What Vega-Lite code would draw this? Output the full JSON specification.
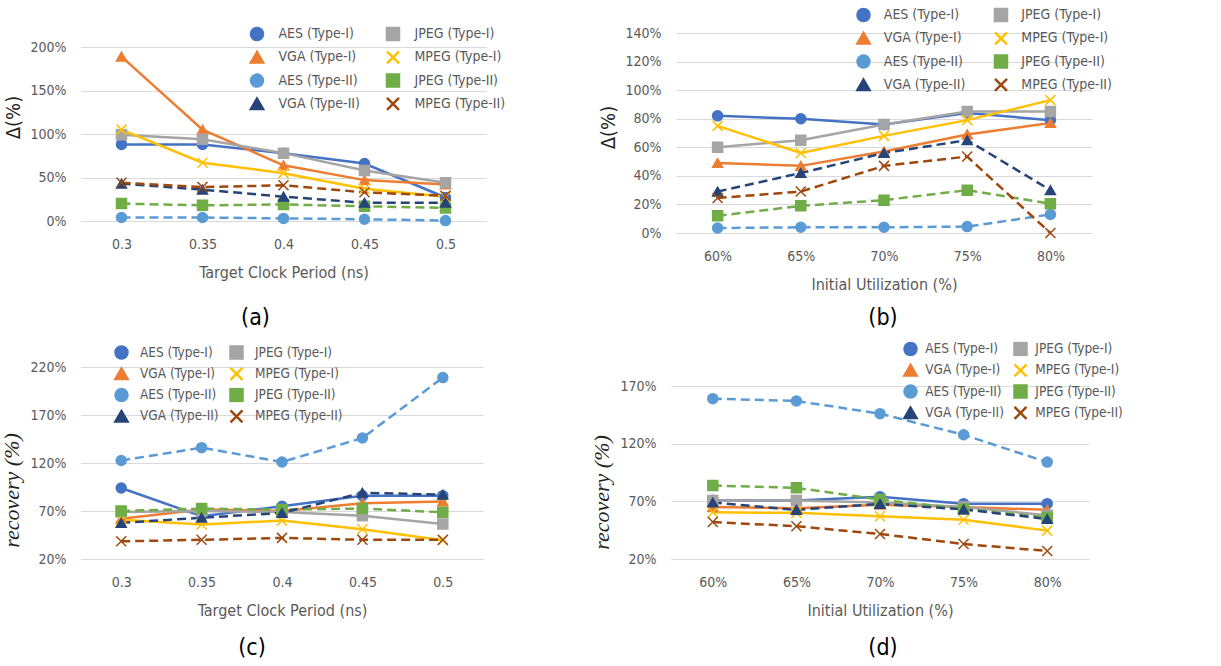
{
"$schema": "https://vega.github.io/schema/vega-lite/v6.json",
"background": "white",
"padding": {"left": 0, "top": 7, "right": 0, "bottom": 0},
"datasets": {
"a": [
{"x":"0.3","series":"AES (Type-I)","v":0.88},{"x":"0.35","series":"AES (Type-I)","v":0.88},{"x":"0.4","series":"AES (Type-I)","v":0.78},{"x":"0.45","series":"AES (Type-I)","v":0.66},{"x":"0.5","series":"AES (Type-I)","v":0.27},
{"x":"0.3","series":"VGA (Type-I)","v":1.89},{"x":"0.35","series":"VGA (Type-I)","v":1.05},{"x":"0.4","series":"VGA (Type-I)","v":0.64},{"x":"0.45","series":"VGA (Type-I)","v":0.47},{"x":"0.5","series":"VGA (Type-I)","v":0.42},
{"x":"0.3","series":"JPEG (Type-I)","v":0.99},{"x":"0.35","series":"JPEG (Type-I)","v":0.94},{"x":"0.4","series":"JPEG (Type-I)","v":0.78},{"x":"0.45","series":"JPEG (Type-I)","v":0.58},{"x":"0.5","series":"JPEG (Type-I)","v":0.44},
{"x":"0.3","series":"MPEG (Type-I)","v":1.05},{"x":"0.35","series":"MPEG (Type-I)","v":0.67},{"x":"0.4","series":"MPEG (Type-I)","v":0.55},{"x":"0.45","series":"MPEG (Type-I)","v":0.37},{"x":"0.5","series":"MPEG (Type-I)","v":0.28},
{"x":"0.3","series":"AES (Type-II)","v":0.04},{"x":"0.35","series":"AES (Type-II)","v":0.04},{"x":"0.4","series":"AES (Type-II)","v":0.03},{"x":"0.45","series":"AES (Type-II)","v":0.02},{"x":"0.5","series":"AES (Type-II)","v":0.005},
{"x":"0.3","series":"JPEG (Type-II)","v":0.20},{"x":"0.35","series":"JPEG (Type-II)","v":0.18},{"x":"0.4","series":"JPEG (Type-II)","v":0.19},{"x":"0.45","series":"JPEG (Type-II)","v":0.17},{"x":"0.5","series":"JPEG (Type-II)","v":0.15},
{"x":"0.3","series":"VGA (Type-II)","v":0.43},{"x":"0.35","series":"VGA (Type-II)","v":0.36},{"x":"0.4","series":"VGA (Type-II)","v":0.28},{"x":"0.45","series":"VGA (Type-II)","v":0.21},{"x":"0.5","series":"VGA (Type-II)","v":0.21},
{"x":"0.3","series":"MPEG (Type-II)","v":0.44},{"x":"0.35","series":"MPEG (Type-II)","v":0.39},{"x":"0.4","series":"MPEG (Type-II)","v":0.41},{"x":"0.45","series":"MPEG (Type-II)","v":0.33},{"x":"0.5","series":"MPEG (Type-II)","v":0.29}
],
"b": [
{"x":"60%","series":"AES (Type-I)","v":0.82},{"x":"65%","series":"AES (Type-I)","v":0.80},{"x":"70%","series":"AES (Type-I)","v":0.76},{"x":"75%","series":"AES (Type-I)","v":0.84},{"x":"80%","series":"AES (Type-I)","v":0.79},
{"x":"60%","series":"VGA (Type-I)","v":0.49},{"x":"65%","series":"VGA (Type-I)","v":0.47},{"x":"70%","series":"VGA (Type-I)","v":0.57},{"x":"75%","series":"VGA (Type-I)","v":0.69},{"x":"80%","series":"VGA (Type-I)","v":0.77},
{"x":"60%","series":"JPEG (Type-I)","v":0.60},{"x":"65%","series":"JPEG (Type-I)","v":0.65},{"x":"70%","series":"JPEG (Type-I)","v":0.76},{"x":"75%","series":"JPEG (Type-I)","v":0.85},{"x":"80%","series":"JPEG (Type-I)","v":0.85},
{"x":"60%","series":"MPEG (Type-I)","v":0.75},{"x":"65%","series":"MPEG (Type-I)","v":0.56},{"x":"70%","series":"MPEG (Type-I)","v":0.68},{"x":"75%","series":"MPEG (Type-I)","v":0.79},{"x":"80%","series":"MPEG (Type-I)","v":0.93},
{"x":"60%","series":"AES (Type-II)","v":0.035},{"x":"65%","series":"AES (Type-II)","v":0.04},{"x":"70%","series":"AES (Type-II)","v":0.04},{"x":"75%","series":"AES (Type-II)","v":0.045},{"x":"80%","series":"AES (Type-II)","v":0.13},
{"x":"60%","series":"JPEG (Type-II)","v":0.12},{"x":"65%","series":"JPEG (Type-II)","v":0.19},{"x":"70%","series":"JPEG (Type-II)","v":0.23},{"x":"75%","series":"JPEG (Type-II)","v":0.30},{"x":"80%","series":"JPEG (Type-II)","v":0.205},
{"x":"60%","series":"VGA (Type-II)","v":0.29},{"x":"65%","series":"VGA (Type-II)","v":0.42},{"x":"70%","series":"VGA (Type-II)","v":0.56},{"x":"75%","series":"VGA (Type-II)","v":0.65},{"x":"80%","series":"VGA (Type-II)","v":0.30},
{"x":"60%","series":"MPEG (Type-II)","v":0.245},{"x":"65%","series":"MPEG (Type-II)","v":0.29},{"x":"70%","series":"MPEG (Type-II)","v":0.47},{"x":"75%","series":"MPEG (Type-II)","v":0.535},{"x":"80%","series":"MPEG (Type-II)","v":0.0}
],
"c": [
{"x":"0.3","series":"AES (Type-I)","v":0.94},{"x":"0.35","series":"AES (Type-I)","v":0.645},{"x":"0.4","series":"AES (Type-I)","v":0.75},{"x":"0.45","series":"AES (Type-I)","v":0.86},{"x":"0.5","series":"AES (Type-I)","v":0.86},
{"x":"0.3","series":"VGA (Type-I)","v":0.62},{"x":"0.35","series":"VGA (Type-I)","v":0.715},{"x":"0.4","series":"VGA (Type-I)","v":0.70},{"x":"0.45","series":"VGA (Type-I)","v":0.78},{"x":"0.5","series":"VGA (Type-I)","v":0.80},
{"x":"0.3","series":"JPEG (Type-I)","v":0.69},{"x":"0.35","series":"JPEG (Type-I)","v":0.70},{"x":"0.4","series":"JPEG (Type-I)","v":0.69},{"x":"0.45","series":"JPEG (Type-I)","v":0.65},{"x":"0.5","series":"JPEG (Type-I)","v":0.565},
{"x":"0.3","series":"MPEG (Type-I)","v":0.61},{"x":"0.35","series":"MPEG (Type-I)","v":0.56},{"x":"0.4","series":"MPEG (Type-I)","v":0.60},{"x":"0.45","series":"MPEG (Type-I)","v":0.51},{"x":"0.5","series":"MPEG (Type-I)","v":0.395},
{"x":"0.3","series":"AES (Type-II)","v":1.226},{"x":"0.35","series":"AES (Type-II)","v":1.36},{"x":"0.4","series":"AES (Type-II)","v":1.21},{"x":"0.45","series":"AES (Type-II)","v":1.46},{"x":"0.5","series":"AES (Type-II)","v":2.09},
{"x":"0.3","series":"JPEG (Type-II)","v":0.70},{"x":"0.35","series":"JPEG (Type-II)","v":0.725},{"x":"0.4","series":"JPEG (Type-II)","v":0.715},{"x":"0.45","series":"JPEG (Type-II)","v":0.725},{"x":"0.5","series":"JPEG (Type-II)","v":0.687},
{"x":"0.3","series":"VGA (Type-II)","v":0.576},{"x":"0.35","series":"VGA (Type-II)","v":0.63},{"x":"0.4","series":"VGA (Type-II)","v":0.68},{"x":"0.45","series":"VGA (Type-II)","v":0.89},{"x":"0.5","series":"VGA (Type-II)","v":0.87},
{"x":"0.3","series":"MPEG (Type-II)","v":0.384},{"x":"0.35","series":"MPEG (Type-II)","v":0.40},{"x":"0.4","series":"MPEG (Type-II)","v":0.42},{"x":"0.45","series":"MPEG (Type-II)","v":0.40},{"x":"0.5","series":"MPEG (Type-II)","v":0.40}
],
"d": [
{"x":"60%","series":"AES (Type-I)","v":0.71},{"x":"65%","series":"AES (Type-I)","v":0.707},{"x":"70%","series":"AES (Type-I)","v":0.74},{"x":"75%","series":"AES (Type-I)","v":0.68},{"x":"80%","series":"AES (Type-I)","v":0.68},
{"x":"60%","series":"VGA (Type-I)","v":0.65},{"x":"65%","series":"VGA (Type-I)","v":0.64},{"x":"70%","series":"VGA (Type-I)","v":0.67},{"x":"75%","series":"VGA (Type-I)","v":0.65},{"x":"80%","series":"VGA (Type-I)","v":0.626},
{"x":"60%","series":"JPEG (Type-I)","v":0.707},{"x":"65%","series":"JPEG (Type-I)","v":0.707},{"x":"70%","series":"JPEG (Type-I)","v":0.69},{"x":"75%","series":"JPEG (Type-I)","v":0.65},{"x":"80%","series":"JPEG (Type-I)","v":0.58},
{"x":"60%","series":"MPEG (Type-I)","v":0.605},{"x":"65%","series":"MPEG (Type-I)","v":0.60},{"x":"70%","series":"MPEG (Type-I)","v":0.57},{"x":"75%","series":"MPEG (Type-I)","v":0.54},{"x":"80%","series":"MPEG (Type-I)","v":0.446},
{"x":"60%","series":"AES (Type-II)","v":1.59},{"x":"65%","series":"AES (Type-II)","v":1.57},{"x":"70%","series":"AES (Type-II)","v":1.46},{"x":"75%","series":"AES (Type-II)","v":1.277},{"x":"80%","series":"AES (Type-II)","v":1.04},
{"x":"60%","series":"JPEG (Type-II)","v":0.837},{"x":"65%","series":"JPEG (Type-II)","v":0.817},{"x":"70%","series":"JPEG (Type-II)","v":0.715},{"x":"75%","series":"JPEG (Type-II)","v":0.634},{"x":"80%","series":"JPEG (Type-II)","v":0.56},
{"x":"60%","series":"VGA (Type-II)","v":0.69},{"x":"65%","series":"VGA (Type-II)","v":0.626},{"x":"70%","series":"VGA (Type-II)","v":0.678},{"x":"75%","series":"VGA (Type-II)","v":0.63},{"x":"80%","series":"VGA (Type-II)","v":0.547},
{"x":"60%","series":"MPEG (Type-II)","v":0.52},{"x":"65%","series":"MPEG (Type-II)","v":0.484},{"x":"70%","series":"MPEG (Type-II)","v":0.417},{"x":"75%","series":"MPEG (Type-II)","v":0.33},{"x":"80%","series":"MPEG (Type-II)","v":0.27}
]
},
"config": {
"view": {"stroke": null},
"font": "DejaVu Sans Condensed, DejaVu Sans, sans-serif",
"axis": {"labelFont": "DejaVu Sans Condensed, DejaVu Sans, sans-serif", "titleFont": "DejaVu Sans Condensed, DejaVu Sans, sans-serif", "labelFontSize": 14, "titleFontSize": 16, "labelColor": "#595959", "titleColor": "#595959", "titleFontWeight": "normal", "ticks": false, "domain": false, "gridColor": "#D9D9D9", "gridWidth": 1},
"axisX": {"grid": false, "domain": true, "domainColor": "#D9D9D9", "domainWidth": 1, "labelPadding": 16, "titlePadding": 13, "labelAngle": 0},
"axisY": {"grid": true, "labelPadding": 15, "titlePadding": 6, "titleColor": "#222222", "titleFontSize": 20},
"legend": {"labelFont": "DejaVu Sans Condensed, DejaVu Sans, sans-serif", "labelColor": "#595959", "symbolStrokeWidth": 2.5, "symbolSize": 144, "labelLimit": 300, "direction": "horizontal", "symbolOpacity": 1},
"title": {"font": "DejaVu Sans Condensed, DejaVu Sans, sans-serif", "fontSize": 23, "fontWeight": "normal", "color": "#000000"}
},
"resolve": {"scale": {"color": "independent", "shape": "independent", "stroke": "independent"}},
"spacing": 11,
"vconcat": [
{"spacing": 92, "resolve": {"scale": {"color": "independent", "shape": "independent", "stroke": "independent"}}, "hconcat": [
{
"width": 405, "height": 188,
"data": {"name": "a"},
"title": {"text": "(a)", "orient": "bottom", "offset": 27, "frame": "group", "anchor": "middle", "dx": -28},
"encoding": {
"x": {"field": "x", "type": "ordinal", "sort": ["0.3","0.35","0.4","0.45","0.5"], "scale": {"type": "point", "padding": 0.5}, "axis": {"title": "Target Clock Period (ns)"}},
"y": {"field": "v", "type": "quantitative", "scale": {"domain": [0, 2], "range": [188, 14], "nice": false, "zero": false}, "axis": {"values": [0, 0.5, 1, 1.5, 2], "format": ".0%", "title": "Δ(%)", "titleY": 84}},
"color": {"field": "series", "type": "nominal",
 "scale": {"domain": ["AES (Type-I)","JPEG (Type-I)","VGA (Type-I)","MPEG (Type-I)","AES (Type-II)","JPEG (Type-II)","VGA (Type-II)","MPEG (Type-II)"], "range": ["#4472C4","#A5A5A5","#ED7D31","#FFC000","#5B9BD5","#70AD47","#264478","#9E480E"]},
 "legend": {"title": null, "orient": "none", "direction": "horizontal", "legendX": 166, "legendY": -7, "columns": 2, "columnPadding": 23, "rowPadding": 7.3, "clipHeight": 16, "labelFontSize": 14, "symbolOffset": 2.5, "labelOffset": 14}}
},
"layer": [
{"transform": [{"filter": "indexof(datum.series, 'II') < 0"}], "mark": {"type": "line", "strokeWidth": 2.5}},
{"transform": [{"filter": "indexof(datum.series, 'II') >= 0"}], "mark": {"type": "line", "strokeWidth": 2.5, "strokeDash": [9, 5]}},
{"mark": {"type": "point", "filled": true, "size": 100, "strokeWidth": 1.5, "opacity": 1}, "encoding": {
 "shape": {"field": "series", "type": "nominal", "scale": {"domain": ["AES (Type-I)","JPEG (Type-I)","VGA (Type-I)","MPEG (Type-I)","AES (Type-II)","JPEG (Type-II)","VGA (Type-II)","MPEG (Type-II)"], "range": ["circle","square","triangle-up","M-1,-1L1,1M-1,1L1,-1","circle","square","triangle-up","M-1,-1L1,1M-1,1L1,-1"]}, "legend": null},
 "stroke": {"field": "series", "type": "nominal", "scale": {"domain": ["AES (Type-I)","JPEG (Type-I)","VGA (Type-I)","MPEG (Type-I)","AES (Type-II)","JPEG (Type-II)","VGA (Type-II)","MPEG (Type-II)"], "range": ["#4472C4","#A5A5A5","#ED7D31","#FFC000","#5B9BD5","#70AD47","#264478","#9E480E"]}, "legend": null}}}
]
},
{
"width": 416, "height": 200,
"data": {"name": "b"},
"title": {"text": "(b)", "orient": "bottom", "offset": 15, "frame": "group", "anchor": "middle", "dx": -1},
"encoding": {
"x": {"field": "x", "type": "ordinal", "sort": ["60%","65%","70%","75%","80%"], "scale": {"type": "point", "padding": 0.5}, "axis": {"title": "Initial Utilization (%)"}},
"y": {"field": "v", "type": "quantitative", "scale": {"domain": [0, 1.4], "nice": false, "zero": false}, "axis": {"values": [0, 0.2, 0.4, 0.6, 0.8, 1, 1.2, 1.4], "format": ".0%", "title": "Δ(%)", "titleY": 94}},
"color": {"field": "series", "type": "nominal",
 "scale": {"domain": ["AES (Type-I)","JPEG (Type-I)","VGA (Type-I)","MPEG (Type-I)","AES (Type-II)","JPEG (Type-II)","VGA (Type-II)","MPEG (Type-II)"], "range": ["#4472C4","#A5A5A5","#ED7D31","#FFC000","#5B9BD5","#70AD47","#264478","#9E480E"]},
 "legend": {"title": null, "orient": "none", "direction": "horizontal", "legendX": 177.5, "legendY": -26, "columns": 2, "columnPadding": 25.5, "rowPadding": 7.3, "clipHeight": 16, "labelFontSize": 14, "symbolOffset": 2.5, "labelOffset": 12.8}}
},
"layer": [
{"transform": [{"filter": "indexof(datum.series, 'II') < 0"}], "mark": {"type": "line", "strokeWidth": 2.5}},
{"transform": [{"filter": "indexof(datum.series, 'II') >= 0"}], "mark": {"type": "line", "strokeWidth": 2.5, "strokeDash": [9, 5]}},
{"mark": {"type": "point", "filled": true, "size": 100, "strokeWidth": 1.5, "opacity": 1}, "encoding": {
 "shape": {"field": "series", "type": "nominal", "scale": {"domain": ["AES (Type-I)","JPEG (Type-I)","VGA (Type-I)","MPEG (Type-I)","AES (Type-II)","JPEG (Type-II)","VGA (Type-II)","MPEG (Type-II)"], "range": ["circle","square","triangle-up","M-1,-1L1,1M-1,1L1,-1","circle","square","triangle-up","M-1,-1L1,1M-1,1L1,-1"]}, "legend": null},
 "stroke": {"field": "series", "type": "nominal", "scale": {"domain": ["AES (Type-I)","JPEG (Type-I)","VGA (Type-I)","MPEG (Type-I)","AES (Type-II)","JPEG (Type-II)","VGA (Type-II)","MPEG (Type-II)"], "range": ["#4472C4","#A5A5A5","#ED7D31","#FFC000","#5B9BD5","#70AD47","#264478","#9E480E"]}, "legend": null}}}
]
}
]},
{"spacing": 107, "resolve": {"scale": {"color": "independent", "shape": "independent", "stroke": "independent"}}, "hconcat": [
{
"width": 402, "height": 192,
"data": {"name": "c"},
"title": {"text": "(c)", "orient": "bottom", "offset": 19, "frame": "group", "anchor": "middle", "dx": -30},
"encoding": {
"x": {"field": "x", "type": "ordinal", "sort": ["0.3","0.35","0.4","0.45","0.5"], "scale": {"type": "point", "padding": 0.5}, "axis": {"title": "Target Clock Period (ns)"}},
"y": {"field": "v", "type": "quantitative", "scale": {"domain": [0.2, 2.2], "nice": false, "zero": false}, "axis": {"values": [0.2, 0.7, 1.2, 1.7, 2.2], "format": ".0%", "title": "recovery (%)", "titleY": 123, "titleFont": "Liberation Serif, DejaVu Serif, serif", "titleFontStyle": "italic", "titleFontSize": 22}},
"color": {"field": "series", "type": "nominal",
 "scale": {"domain": ["AES (Type-I)","JPEG (Type-I)","VGA (Type-I)","MPEG (Type-I)","AES (Type-II)","JPEG (Type-II)","VGA (Type-II)","MPEG (Type-II)"], "range": ["#4472C4","#A5A5A5","#ED7D31","#FFC000","#5B9BD5","#70AD47","#264478","#9E480E"]},
 "legend": {"title": null, "orient": "none", "direction": "horizontal", "legendX": 30, "legendY": -22, "columns": 2, "columnPadding": 7, "rowPadding": 6.3, "clipHeight": 15, "labelFontSize": 13.5, "symbolOffset": 3, "labelOffset": 11}}
},
"layer": [
{"transform": [{"filter": "indexof(datum.series, 'II') < 0"}], "mark": {"type": "line", "strokeWidth": 2.5}},
{"transform": [{"filter": "indexof(datum.series, 'II') >= 0"}], "mark": {"type": "line", "strokeWidth": 2.5, "strokeDash": [9, 5]}},
{"mark": {"type": "point", "filled": true, "size": 100, "strokeWidth": 1.5, "opacity": 1}, "encoding": {
 "shape": {"field": "series", "type": "nominal", "scale": {"domain": ["AES (Type-I)","JPEG (Type-I)","VGA (Type-I)","MPEG (Type-I)","AES (Type-II)","JPEG (Type-II)","VGA (Type-II)","MPEG (Type-II)"], "range": ["circle","square","triangle-up","M-1,-1L1,1M-1,1L1,-1","circle","square","triangle-up","M-1,-1L1,1M-1,1L1,-1"]}, "legend": null},
 "stroke": {"field": "series", "type": "nominal", "scale": {"domain": ["AES (Type-I)","JPEG (Type-I)","VGA (Type-I)","MPEG (Type-I)","AES (Type-II)","JPEG (Type-II)","VGA (Type-II)","MPEG (Type-II)"], "range": ["#4472C4","#A5A5A5","#ED7D31","#FFC000","#5B9BD5","#70AD47","#264478","#9E480E"]}, "legend": null}}}
]
},
{
"width": 418, "height": 192,
"data": {"name": "d"},
"title": {"text": "(d)", "orient": "bottom", "offset": 19, "frame": "group", "anchor": "middle", "dx": 3},
"encoding": {
"x": {"field": "x", "type": "ordinal", "sort": ["60%","65%","70%","75%","80%"], "scale": {"type": "point", "padding": 0.5}, "axis": {"title": "Initial Utilization (%)"}},
"y": {"field": "v", "type": "quantitative", "scale": {"domain": [0.2, 1.7], "range": [192, 19], "nice": false, "zero": false}, "axis": {"values": [0.2, 0.7, 1.2, 1.7], "format": ".0%", "title": "recovery (%)", "titleY": 125, "titleFont": "Liberation Serif, DejaVu Serif, serif", "titleFontStyle": "italic", "titleFontSize": 22}},
"color": {"field": "series", "type": "nominal",
 "scale": {"domain": ["AES (Type-I)","JPEG (Type-I)","VGA (Type-I)","MPEG (Type-I)","AES (Type-II)","JPEG (Type-II)","VGA (Type-II)","MPEG (Type-II)"], "range": ["#4472C4","#A5A5A5","#ED7D31","#FFC000","#5B9BD5","#70AD47","#264478","#9E480E"]},
 "legend": {"title": null, "orient": "none", "direction": "horizontal", "legendX": 229, "legendY": -25.5, "columns": 2, "columnPadding": 6, "rowPadding": 6.3, "clipHeight": 15, "labelFontSize": 13.5, "symbolOffset": 3, "labelOffset": 7.3}}
},
"layer": [
{"transform": [{"filter": "indexof(datum.series, 'II') < 0"}], "mark": {"type": "line", "strokeWidth": 2.5}},
{"transform": [{"filter": "indexof(datum.series, 'II') >= 0"}], "mark": {"type": "line", "strokeWidth": 2.5, "strokeDash": [9, 5]}},
{"mark": {"type": "point", "filled": true, "size": 100, "strokeWidth": 1.5, "opacity": 1}, "encoding": {
 "shape": {"field": "series", "type": "nominal", "scale": {"domain": ["AES (Type-I)","JPEG (Type-I)","VGA (Type-I)","MPEG (Type-I)","AES (Type-II)","JPEG (Type-II)","VGA (Type-II)","MPEG (Type-II)"], "range": ["circle","square","triangle-up","M-1,-1L1,1M-1,1L1,-1","circle","square","triangle-up","M-1,-1L1,1M-1,1L1,-1"]}, "legend": null},
 "stroke": {"field": "series", "type": "nominal", "scale": {"domain": ["AES (Type-I)","JPEG (Type-I)","VGA (Type-I)","MPEG (Type-I)","AES (Type-II)","JPEG (Type-II)","VGA (Type-II)","MPEG (Type-II)"], "range": ["#4472C4","#A5A5A5","#ED7D31","#FFC000","#5B9BD5","#70AD47","#264478","#9E480E"]}, "legend": null}}}
]
}
]}
]
}
